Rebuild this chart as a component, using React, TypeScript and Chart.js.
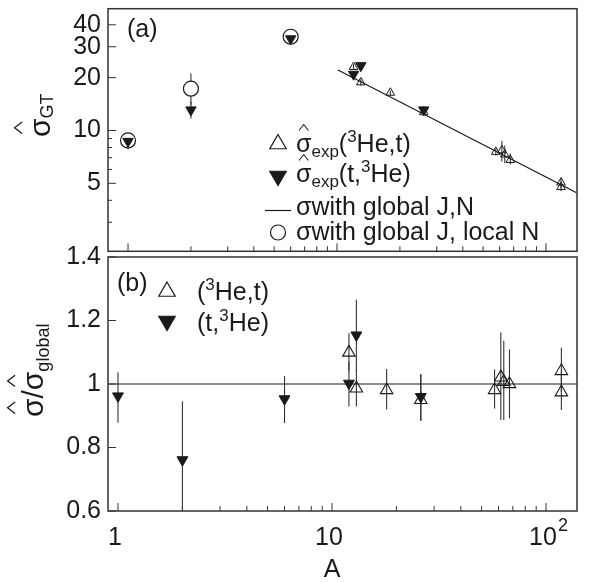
import React, { useEffect, useRef } from 'react';
import { Chart, registerables } from 'chart.js';
import { drawPoint } from 'chart.js/helpers';

Chart.register(...registerables);

const FONT = '"Liberation Sans", Arial, Helvetica, sans-serif';
const INK = '#1a1a1a';

// ---------------- tick labels ----------------
const xTickValues = [1, 10, 100];
const xTickLabels = ['1', '10', '10^2'];
const topYTickValues = [5, 10, 20, 30, 40];
const topYTickLabels = ['5', '10', '20', '30', '40'];
const topYMinorTicks = [3, 4, 6, 7, 8, 9];
const botYTickValues = [0.6, 0.8, 1, 1.2, 1.4];
const botYTickLabels = ['0.6', '0.8', '1', '1.2', '1.4'];

// ---------------- panel (a): sigma_GT ----------------
// (3He,t) open triangles
const heTA = [12, 13, 18, 26, 57.5, 61.5, 63.5, 67.5, 118, 118];
const heTSigma = [23.0, 18.8, 16.4, 12.7, 7.55, 7.71, 7.3, 6.79, 5.05, 4.76];
const heTSigmaLo = [22.3, 18.0, 15.9, 12.2, 7.2, 6.66, 6.5, 6.4, 4.7, 4.5];
const heTSigmaHi = [23.8, 19.6, 16.9, 13.4, 7.9, 8.74, 8.2, 7.4, 5.3, 5.0];
// (t,3He) filled triangles
const tHeA = [1, 2, 6, 12, 13, 26];
const tHeSigma = [8.67, 13.1, 33.3, 20.9, 23.4, 13.1];
const tHeSigmaLo = [7.8, 11.7, 31.5, 20.0, 22.4, 12.4];
const tHeSigmaHi = [9.6, 14.6, 35.5, 21.8, 24.4, 13.8];
// sigma with global J, local N (open circles)
const localA = [1, 2, 6];
const localSigma = [8.78, 17.3, 34.2];
const localSigmaLo = [8.78, 14.0, 34.2];
const localSigmaHi = [8.78, 21.1, 34.2];
// sigma with global J,N (line)
const globalLineA = [10.1, 140];
const globalLineSigma = [22.1, 4.42];

// ---------------- panel (b): ratio ----------------
const heTRatio = [1.099, 0.986, 0.981, 0.95, 0.981, 1.021, 1.007, 1.0, 1.041, 0.974];
const heTRatioLo = [1.04, 0.929, 0.92, 0.884, 0.923, 0.887, 0.887, 0.892, 0.975, 0.918];
const heTRatioHi = [1.16, 1.045, 1.047, 1.031, 1.046, 1.162, 1.136, 1.109, 1.114, 1.04];
const tHeRatio = [0.962, 0.761, 0.953, 1.002, 1.154, 0.96];
const tHeRatioLo = [0.878, 0.55, 0.877, 0.929, 1.04, 0.884];
const tHeRatioHi = [1.037, 0.946, 1.025, 1.07, 1.265, 1.031];
const unityA = [0.9, 140];
const unityRatio = [1, 1];

// ---------------- helpers ----------------
type Run = { t: string; size: number; dy?: number; hat?: boolean; hb?: number; hp?: number };

function drawRuns(ctx: CanvasRenderingContext2D, runs: Run[], x: number, y: number) {
  let cx = x;
  for (const r of runs) {
    ctx.font = `${r.size}px ${FONT}`;
    const w = ctx.measureText(r.t).width;
    const by = y + (r.dy || 0);
    ctx.fillText(r.t, cx, by);
    if (r.hat) {
      const hx = cx + w / 2;
      const base = by - r.size * (r.hb ?? 0.86);
      const peak = by - r.size * (r.hp ?? 1.1);
      const hw = r.size * 0.19;
      ctx.beginPath();
      ctx.moveTo(hx - hw, base);
      ctx.lineTo(hx, peak);
      ctx.lineTo(hx + hw, base);
      ctx.lineWidth = Math.max(1, r.size / 24);
      ctx.stroke();
    }
    cx += w;
  }
  return cx - x;
}

function marker(ctx: CanvasRenderingContext2D, style: string, x: number, y: number, r: number, rot: number, fill: string) {
  ctx.save();
  ctx.fillStyle = fill;
  ctx.strokeStyle = INK;
  ctx.lineWidth = 1.2;
  drawPoint(ctx, { pointStyle: style as any, rotation: rot, radius: r, borderWidth: 1.2 } as any, x, y);
  ctx.restore();
}

const errorBarPlugin = {
  id: 'errorBars',
  beforeDatasetsDraw(chart: any) {
    const { ctx, chartArea: a, scales } = chart;
    ctx.save();
    ctx.beginPath();
    ctx.rect(a.left, a.top, a.right - a.left, a.bottom - a.top);
    ctx.clip();
    ctx.strokeStyle = '#333';
    ctx.lineWidth = 1.1;
    chart.data.datasets.forEach((ds: any) => {
      if (!ds.errLo) return;
      ds.data.forEach((p: any, i: number) => {
        const x = scales.x.getPixelForValue(p.x);
        const y1 = scales.y.getPixelForValue(ds.errLo[i]);
        const y2 = scales.y.getPixelForValue(ds.errHi[i]);
        ctx.beginPath();
        ctx.moveTo(x, y1);
        ctx.lineTo(x, y2);
        ctx.stroke();
      });
    });
    ctx.restore();
  },
};

const xMinorTicks: number[] = [];
for (const d of [1, 10]) for (let m = 2; m <= 9; m++) xMinorTicks.push(m * d);

function framePlugin(yMajor: number[], yMinor: number[], draw: (ctx: CanvasRenderingContext2D, chart: any) => void) {
  return {
    id: 'frameAndText',
    afterDraw(chart: any) {
      const { ctx, chartArea: a } = chart;
      const xs = chart.scales.x;
      const ys = chart.scales.y;
      ctx.save();
      ctx.strokeStyle = '#333';
      ctx.lineWidth = 1;
      const seg = (x1: number, y1: number, x2: number, y2: number) => {
        ctx.beginPath();
        ctx.moveTo(x1, y1);
        ctx.lineTo(x2, y2);
        ctx.stroke();
      };
      yMajor.forEach((v) => { const y = ys.getPixelForValue(v); seg(a.left, y, a.left + 8, y); });
      yMinor.forEach((v) => { const y = ys.getPixelForValue(v); seg(a.left, y, a.left + 4, y); });
      xTickValues.forEach((v) => { const x = xs.getPixelForValue(v); seg(x, a.bottom, x, a.bottom - 8); });
      xMinorTicks.forEach((v) => { const x = xs.getPixelForValue(v); seg(x, a.bottom, x, a.bottom - 5); });
      ctx.lineWidth = 1.5;
      ctx.strokeRect(a.left, a.top, a.right - a.left, a.bottom - a.top);
      ctx.fillStyle = INK;
      ctx.strokeStyle = INK;
      ctx.textAlign = 'left';
      ctx.textBaseline = 'alphabetic';
      draw(ctx, chart);
      ctx.restore();
    },
  };
}

const common = {
  animation: false as const,
  responsive: false,
  maintainAspectRatio: false,
  devicePixelRatio: 1,
  events: [] as any[],
};

function yAxis(type: string, min: number, max: number, vals: number[], labels: string[]) {
  return {
    type,
    min,
    max,
    afterBuildTicks: (s: any) => { s.ticks = vals.map((v) => ({ value: v })); },
    afterFit: (s: any) => { s.width = 108; s.paddingTop = 0; s.paddingBottom = 0; },
    grid: { display: false, drawTicks: false },
    border: { display: false },
    ticks: {
      autoSkip: false,
      padding: 7,
      color: INK,
      font: { family: FONT, size: 25 },
      callback: (v: number, i: number) => labels[i] ?? '',
    },
  };
}

function topConfig(): any {
  const topDraw = (ctx: CanvasRenderingContext2D) => {
    drawRuns(ctx, [{ t: '(a)', size: 25 }], 127, 37);
    ctx.save();
    ctx.translate(50, 137);
    ctx.rotate(-Math.PI / 2);
    drawRuns(ctx, [{ t: 'σ', size: 30, hat: true, hb: 0.93, hp: 1.18 }, { t: 'GT', size: 18, dy: 3 }], 0, 0);
    ctx.restore();
    marker(ctx, 'triangle', 278, 144, 9.5, 0, 'rgba(0,0,0,0)');
    marker(ctx, 'triangle', 278, 176, 9.5, 180, INK);
    ctx.lineWidth = 1.2;
    ctx.beginPath();
    ctx.moveTo(265, 210.5);
    ctx.lineTo(291, 210.5);
    ctx.stroke();
    marker(ctx, 'circle', 278, 232.5, 7.5, 0, '#fff');
    ctx.fillStyle = INK;
    drawRuns(ctx, [
      { t: 'σ', size: 25, hat: true }, { t: 'exp', size: 17, dy: 5 }, { t: '(', size: 25 },
      { t: '3', size: 17, dy: -10 }, { t: 'He,t)', size: 25 },
    ], 296, 152);
    drawRuns(ctx, [
      { t: 'σ', size: 25, hat: true }, { t: 'exp', size: 17, dy: 5 }, { t: '(t,', size: 25 },
      { t: '3', size: 17, dy: -10 }, { t: 'He)', size: 25 },
    ], 296, 182);
    drawRuns(ctx, [{ t: 'σ', size: 25 }, { t: 'with global J,N', size: 25 }], 296, 215);
    drawRuns(ctx, [{ t: 'σ', size: 25 }, { t: 'with global J, local N', size: 25 }], 296, 240);
  };
  return {
    type: 'scatter',
    data: {
      datasets: [
        {
          label: 'σexp(t,3He)',
          data: tHeA.map((a, i) => ({ x: a, y: tHeSigma[i] })),
          errLo: tHeSigmaLo, errHi: tHeSigmaHi,
          pointStyle: 'triangle', pointRotation: 180, pointRadius: 6,
          pointBackgroundColor: INK, pointBorderColor: INK, pointBorderWidth: 1,
        },
        {
          label: 'σexp(3He,t)',
          data: heTA.map((a, i) => ({ x: a, y: heTSigma[i] })),
          errLo: heTSigmaLo, errHi: heTSigmaHi,
          pointStyle: 'triangle', pointRadius: 5,
          pointBackgroundColor: 'rgba(0,0,0,0)', pointBorderColor: INK, pointBorderWidth: 1,
        },
        {
          label: 'σ with global J, local N',
          data: localA.map((a, i) => ({ x: a, y: localSigma[i] })),
          errLo: localSigmaLo, errHi: localSigmaHi,
          pointStyle: 'circle', pointRadius: 7.5,
          pointBackgroundColor: '#fff', pointBorderColor: INK, pointBorderWidth: 1.2,
        },
        {
          label: 'σ with global J,N',
          data: globalLineA.map((a, i) => ({ x: a, y: globalLineSigma[i] })),
          showLine: true, pointRadius: 0, borderColor: INK, borderWidth: 1.2, fill: false,
        },
      ],
    },
    options: {
      ...common,
      layout: { padding: { top: 4, right: 12, bottom: 3, left: 0 } },
      plugins: { legend: { display: false }, tooltip: { enabled: false } },
      scales: {
        x: { type: 'logarithmic', min: 0.802, max: 140.7, display: false },
        y: yAxis('logarithmic', 2.05, 49.4, topYTickValues, topYTickLabels),
      },
    },
    plugins: [errorBarPlugin, framePlugin(topYTickValues, topYMinorTicks, topDraw)],
  };
}

const OFF = 230;

function botConfig(): any {
  const botDraw = (ctx: CanvasRenderingContext2D, chart: any) => {
    drawRuns(ctx, [{ t: '(b)', size: 25 }], 117, 291 - OFF);
    marker(ctx, 'triangle', 167, 291.5 - OFF, 9.5, 0, 'rgba(0,0,0,0)');
    marker(ctx, 'triangle', 167, 321 - OFF, 9.5, 180, INK);
    ctx.fillStyle = INK;
    drawRuns(ctx, [{ t: '(', size: 25 }, { t: '3', size: 17, dy: -10 }, { t: 'He,t)', size: 25 }], 197, 300 - OFF);
    drawRuns(ctx, [{ t: '(t,', size: 25 }, { t: '3', size: 17, dy: -10 }, { t: 'He)', size: 25 }], 197, 331 - OFF);
    ctx.save();
    ctx.translate(43, 417 - OFF);
    ctx.rotate(-Math.PI / 2);
    drawRuns(ctx, [
      { t: 'σ', size: 30, hat: true, hb: 0.93, hp: 1.18 }, { t: '/', size: 30 },
      { t: 'σ', size: 30, hat: true, hb: 0.93, hp: 1.18 }, { t: 'global', size: 18, dy: 6 },
    ], 0, 0);
    ctx.restore();
    // x tick labels
    const xs = chart.scales.x;
    xTickValues.forEach((v, i) => {
      const px = xs.getPixelForValue(v);
      const [base, exp] = xTickLabels[i].split('^');
      ctx.font = `25px ${FONT}`;
      const wb = ctx.measureText(base).width;
      drawRuns(ctx, [{ t: base, size: 25 }], px - 3 - wb / 2, 545 - OFF);
      if (exp) drawRuns(ctx, [{ t: exp, size: 18 }], px - 3 + wb / 2 + 1, 531 - OFF);
    });
    ctx.textAlign = 'center';
    ctx.font = `25px ${FONT}`;
    ctx.fillText('A', 332, 577 - OFF);
  };
  return {
    type: 'scatter',
    data: {
      datasets: [
        {
          label: '(t,3He)',
          data: tHeA.map((a, i) => ({ x: a, y: tHeRatio[i] })),
          errLo: tHeRatioLo, errHi: tHeRatioHi,
          pointStyle: 'triangle', pointRotation: 180, pointRadius: 6.3,
          pointBackgroundColor: INK, pointBorderColor: INK, pointBorderWidth: 1,
        },
        {
          label: '(3He,t)',
          data: heTA.map((a, i) => ({ x: a, y: heTRatio[i] })),
          errLo: heTRatioLo, errHi: heTRatioHi,
          pointStyle: 'triangle', pointRadius: 7.2,
          pointBackgroundColor: 'rgba(0,0,0,0)', pointBorderColor: INK, pointBorderWidth: 1.1,
        },
        {
          label: 'unity',
          data: unityA.map((a, i) => ({ x: a, y: unityRatio[i] })),
          showLine: true, pointRadius: 0, borderColor: INK, borderWidth: 1.2, fill: false,
        },
      ],
    },
    options: {
      ...common,
      layout: { padding: { top: 27, right: 12, bottom: 71, left: 0 } },
      plugins: { legend: { display: false }, tooltip: { enabled: false } },
      scales: {
        x: { type: 'logarithmic', min: 0.898, max: 139.6, display: false },
        y: yAxis('linear', 0.6, 1.4, botYTickValues, botYTickLabels),
      },
    },
    plugins: [errorBarPlugin, framePlugin(botYTickValues, [], botDraw)],
  };
}

export default function App() {
  const topRef = useRef<HTMLCanvasElement>(null);
  const botRef = useRef<HTMLCanvasElement>(null);
  useEffect(() => {
    const c1 = new Chart(topRef.current as HTMLCanvasElement, topConfig());
    const c2 = new Chart(botRef.current as HTMLCanvasElement, botConfig());
    return () => {
      c1.destroy();
      c2.destroy();
    };
  }, []);
  return (
    <div style={{ position: 'fixed', left: 0, top: 0, width: 589, height: 582, background: '#fff' }}>
      <canvas
        ref={topRef}
        width={589}
        height={260}
        style={{ position: 'absolute', left: 0, top: 0, width: 589, height: 260 }}
      />
      <canvas
        ref={botRef}
        width={589}
        height={352}
        style={{ position: 'absolute', left: 0, top: OFF, width: 589, height: 352 }}
      />
    </div>
  );
}
